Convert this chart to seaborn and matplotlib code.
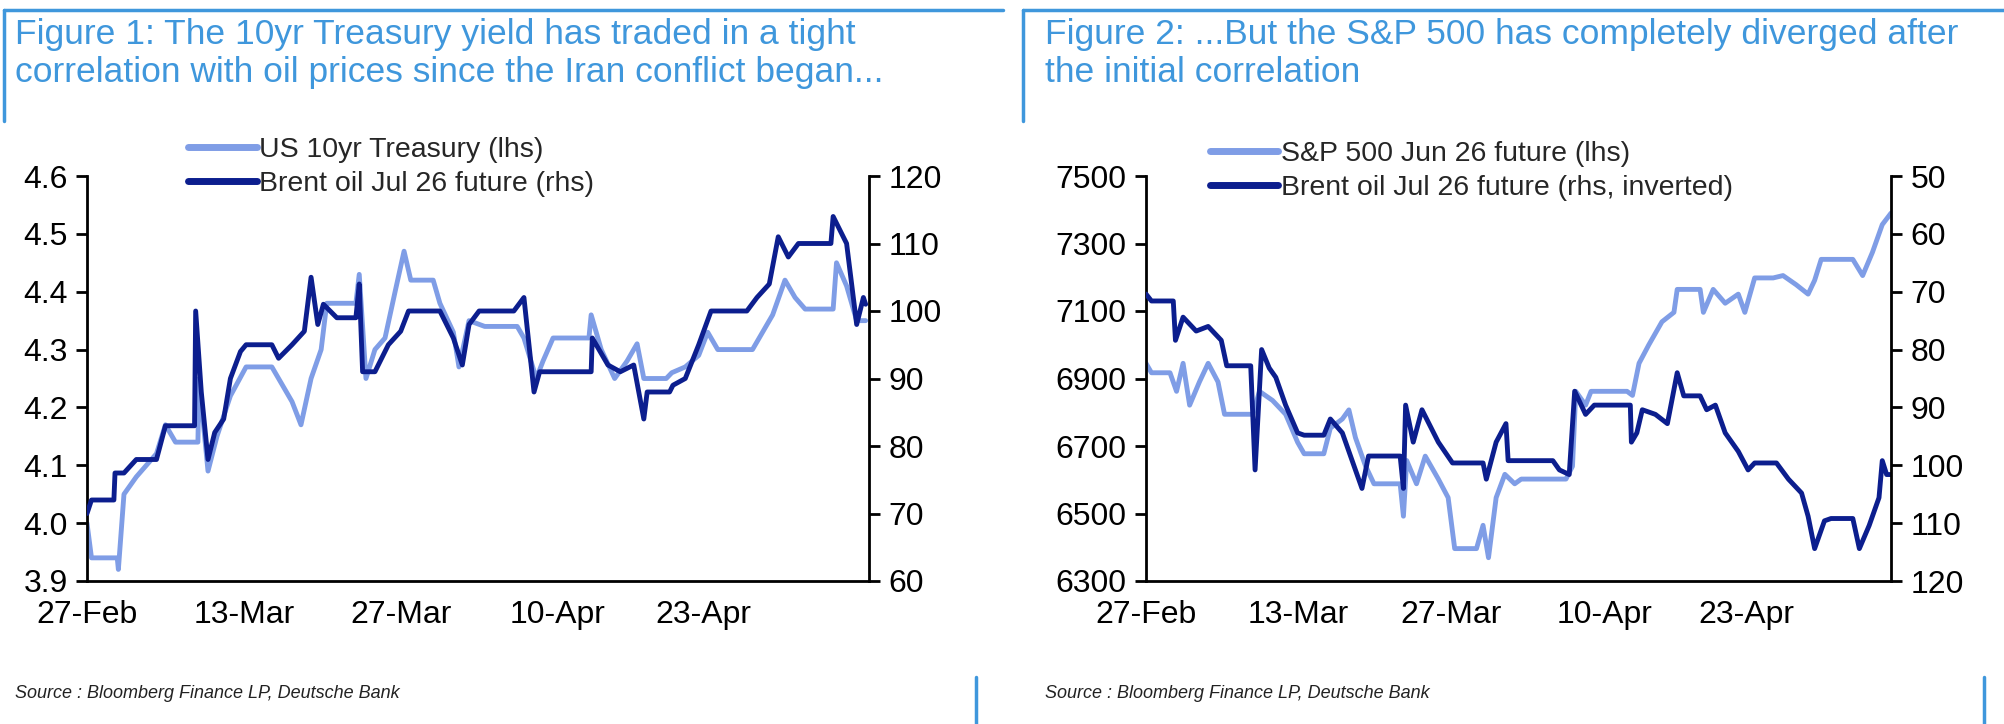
import matplotlib
matplotlib.use("Agg")
import matplotlib.pyplot as plt
import seaborn as sns
import pandas as pd
from matplotlib import font_manager as fm

sns.set_style("white")
names = {f.name for f in fm.fontManager.ttflist}
FONT = "Liberation Sans Narrow" if "Liberation Sans Narrow" in names else "Liberation Sans"
plt.rcParams['font.family'] = [FONT, 'DejaVu Sans']

LIGHT = "#7f9de6"
DARK = "#0c1e8e"
TITLE_C = "#3f97dc"

# ---------- data (x = days since 27-Feb) ----------
tick_days = [0, 14, 28, 42, 55]
tick_labels = ["27-Feb", "13-Mar", "27-Mar", "10-Apr", "23-Apr"]

ust_days = [0, 0.4, 2.7, 2.8, 3.3, 4.4, 6.2, 7.0, 7.9, 9.9, 10.0, 10.8, 11.6, 12.8, 14.2, 16.5, 17.1, 18.3,
            19.1, 20.0, 20.9, 21.4, 24.0, 24.3, 24.9, 25.7, 26.6, 27.5, 28.3, 28.9, 30.9, 31.5, 32.7, 33.2,
            34.1, 35.5, 38.4, 39.0, 40.1, 40.7, 41.6, 44.8, 45.0, 45.9, 47.1, 48.2, 49.1, 49.7, 51.7, 52.2,
            53.4, 54.6, 55.4, 56.3, 59.4, 60.3, 61.2, 62.3, 63.2, 64.1, 66.6, 66.9, 67.8, 68.7, 69.5]
ust_vals = [4.00, 3.94, 3.94, 3.92, 4.05, 4.08, 4.12, 4.17, 4.14, 4.14, 4.25, 4.09, 4.15, 4.22, 4.27, 4.27, 4.25, 4.21,
            4.17, 4.25, 4.30, 4.38, 4.38, 4.43, 4.25, 4.30, 4.32, 4.40, 4.47, 4.42, 4.42, 4.38, 4.33, 4.27,
            4.35, 4.34, 4.34, 4.32, 4.25, 4.28, 4.32, 4.32, 4.36, 4.30, 4.25, 4.28, 4.31, 4.25, 4.25, 4.26,
            4.27, 4.29, 4.33, 4.30, 4.30, 4.33, 4.36, 4.42, 4.39, 4.37, 4.37, 4.45, 4.41, 4.35, 4.35]

brent1_days = [0, 0.4, 2.4, 2.5, 3.3, 4.4, 6.2, 7.0, 9.6, 9.7, 10.2, 10.8, 11.4, 12.2, 12.8, 13.7, 14.2, 16.5,
               17.1, 18.3, 19.4, 20.0, 20.6, 21.1, 22.3, 24.0, 24.3, 24.6, 25.7, 26.9, 28.0, 28.7, 30.9, 31.5,
               32.7, 33.5, 34.1, 35.0, 38.1, 39.0, 39.9, 40.4, 41.6, 45.0, 45.1, 46.5, 47.6, 48.8, 49.7, 50.0,
               52.0, 52.3, 53.4, 54.6, 55.7, 56.6, 58.9, 59.8, 60.9, 61.7, 62.6, 63.5, 66.4, 66.6, 67.8, 68.7,
               69.3, 69.5]
brent1_vals = [70, 72, 72, 76, 76, 78, 78, 83, 83, 100, 88, 78, 82, 84, 90, 94, 95, 95,
               93, 95, 97, 105, 98, 101, 99, 99, 104, 91, 91, 95, 97, 100, 100, 100,
               96, 92, 98, 100, 100, 102, 88, 91, 91, 91, 96, 92, 91, 92, 84, 88,
               88, 89, 90, 95, 100, 100, 100, 102, 104, 111, 108, 110, 110, 114, 110, 98,
               102, 101]

spx_days = [0, 0.5, 2.2, 2.8, 3.4, 4.0, 4.9, 5.7, 6.6, 7.2, 9.8, 10.4, 11.6, 12.8, 13.9, 14.5, 16.3, 16.9,
            18.0, 18.6, 19.2, 20.1, 20.9, 23.3, 23.6, 23.9, 24.8, 25.6, 26.8, 27.7, 28.3, 30.3, 30.9, 31.4,
            32.1, 32.9, 33.8, 34.4, 38.5, 39.1, 39.4, 40.3, 40.8, 44.1, 44.6, 45.2, 46.1, 47.3, 48.4, 48.7,
            50.8, 51.1, 52.0, 53.1, 54.3, 54.9, 55.8, 57.5, 58.4, 59.6, 60.7, 61.3, 61.9, 64.8, 65.7, 66.6,
            67.5, 68.3]
spx_vals = [6945, 6917, 6917, 6862, 6945, 6821, 6890, 6945, 6890, 6794, 6794, 6862, 6835, 6794, 6711, 6677, 6677, 6753,
            6780, 6807, 6725, 6643, 6588, 6588, 6492, 6657, 6588, 6670, 6602, 6547, 6396, 6396, 6465, 6369,
            6547, 6616, 6588, 6602, 6602, 6640, 6862, 6821, 6862, 6862, 6850, 6945, 7000, 7068, 7096, 7164,
            7164, 7096, 7164, 7123, 7150, 7096, 7198, 7198, 7205, 7178, 7150, 7191, 7253, 7253, 7205, 7274,
            7356, 7390]

brent2_days = [0, 0.5, 2.5, 2.7, 3.4, 4.6, 5.7, 6.9, 7.4, 9.6, 10.0, 10.6, 11.3, 11.9, 12.8, 13.9, 14.5, 16.3,
               16.9, 18.0, 18.9, 19.8, 20.4, 23.3, 23.6, 23.8, 24.5, 25.3, 26.8, 28.1, 30.9, 31.2, 32.1, 33.0,
               33.2, 34.1, 37.3, 37.9, 38.8, 39.3, 40.3, 41.1, 44.4, 44.5, 45.0, 45.5, 46.7, 47.8, 48.7, 49.3,
               50.8, 51.4, 52.2, 53.1, 54.3, 55.2, 55.8, 57.8, 58.9, 60.1, 60.7, 61.3, 62.2, 62.8, 64.8, 65.4,
               66.3, 67.2, 67.5, 67.9, 68.3]
brent2_vals = [70.4, 71.6, 71.6, 78.4, 74.4, 76.8, 76, 78.4, 82.8, 82.8, 100.8, 80, 83.2, 84.8, 89.6, 94.4, 94.8, 94.8,
               92, 94.4, 99.2, 104, 98.4, 98.4, 104, 89.6, 96, 90.4, 96, 99.6, 99.6, 102.4, 96, 92.8,
               99.2, 99.2, 99.2, 100.8, 101.6, 87.2, 91.2, 89.6, 89.6, 96, 94.4, 90.4, 91.2, 92.8, 84, 88,
               88, 90.4, 89.6, 94.4, 97.6, 100.8, 99.6, 99.6, 102.4, 104.8, 108.8, 114.4, 109.6, 109.2, 109.2, 114.4,
               110.4, 105.6, 99.2, 101.6, 101.6]

# ---------- figure ----------
fig = plt.figure(figsize=(20.04, 7.24), dpi=100)
W, H = 2004, 724

def frame(x0, x1, bar_x, title, tx):
    fig.add_artist(plt.Line2D([x0 / W, x1 / W], [1 - 10 / H] * 2, color=TITLE_C, lw=2.5))
    fig.add_artist(plt.Line2D([x0 / W] * 2, [1 - 10 / H, 1 - 121 / H], color=TITLE_C, lw=2.5))
    fig.add_artist(plt.Line2D([bar_x / W] * 2, [0, 1 - 677 / H], color=TITLE_C, lw=2.5))
    fig.text(tx / W, 1 - 18 / H, title, color=TITLE_C, fontsize=25.5, va="top", ha="left", linespacing=1.2)
    fig.text(tx / W, 1 - 694 / H, "Source : Bloomberg Finance LP, Deutsche Bank", fontsize=13,
             style="italic", color="#222222", va="center", ha="left")

frame(4, 1003, 976, "Figure 1: The 10yr Treasury yield has traded in a tight\ncorrelation with oil prices since the Iran conflict began...", 15)
frame(1023, 2004, 1984, "Figure 2: ...But the S&P 500 has completely diverged after\nthe initial correlation", 1045)

def style(ax):
    for s in ["left", "bottom", "right"]:
        ax.spines[s].set_linewidth(2)
        ax.spines[s].set_color("black")
    ax.tick_params(direction="out", length=8, width=2, labelsize=23, colors="black", pad=6)

b = 1 - 581 / H
h = (581 - 176) / H

def panel(x0, x1, ldays, lvals, llab, rdays, rvals, rlab, ylim, yticks, ylim2, yticks2, xmax, leg_anchor):
    ax = fig.add_axes([x0 / W, b, (x1 - x0) / W, h])
    ax2 = ax.twinx()
    sns.lineplot(x=ldays, y=lvals, ax=ax, color=LIGHT, lw=3.5, label=llab, legend=False)
    sns.lineplot(x=rdays, y=rvals, ax=ax2, color=DARK, lw=3.5, label=rlab, legend=False)
    ax.set_xlim(0, xmax)
    ax.set_ylim(*ylim)
    ax.set_yticks(yticks)
    ax2.set_ylim(*ylim2)
    ax2.set_yticks(yticks2)
    ax.set_xticks(tick_days)
    ax.set_xticklabels(tick_labels)
    for a in (ax, ax2):
        style(a)
        a.grid(False)
        a.set_xlabel("")
        a.set_ylabel("")
        a.spines["top"].set_visible(False)
    ax.spines["right"].set_visible(False)
    ax2.spines["left"].set_visible(False)
    ax2.spines["bottom"].set_visible(False)
    h1, l1 = ax.get_legend_handles_labels()
    h2, l2 = ax2.get_legend_handles_labels()
    leg = ax2.legend(h1 + h2, l1 + l2, loc="upper left", bbox_to_anchor=leg_anchor, frameon=False,
                     fontsize=20.5, handlelength=2.4, handletextpad=0.1, labelspacing=0.3, borderaxespad=0)
    for line in leg.get_lines():
        line.set_linewidth(5)
    return ax, ax2

ax, ax2 = panel(87, 869, ust_days, ust_vals, "US 10yr Treasury (lhs)", brent1_days, brent1_vals,
                "Brent oil Jul 26 future (rhs)", (3.9, 4.6), [3.9, 4.0, 4.1, 4.2, 4.3, 4.4, 4.5, 4.6],
                (60, 120), list(range(60, 121, 10)), 69.8, (0.115, 1.125))
ax.set_yticklabels([f"{v:.1f}" for v in ax.get_yticks()])

ax, ax2 = panel(1146, 1891, spx_days, spx_vals, "S&P 500 Jun 26 future (lhs)", brent2_days, brent2_vals,
                "Brent oil Jul 26 future (rhs, inverted)", (6300, 7500), list(range(6300, 7501, 200)),
                (120, 50), list(range(50, 121, 10)), 68.3, (0.07, 1.115))

fig.savefig("out.png", dpi=100)
